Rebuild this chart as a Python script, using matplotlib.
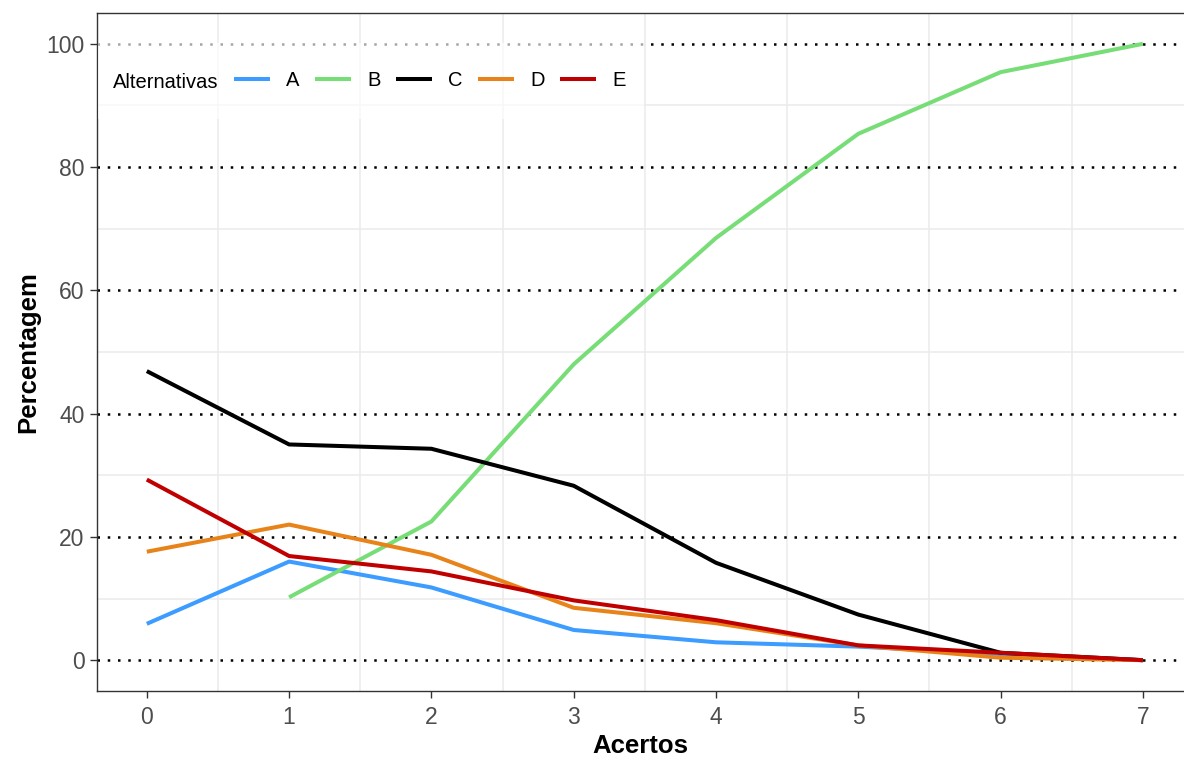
"""Percentagem de escolha de cada alternativa por número de acertos."""

import matplotlib

matplotlib.use("Agg")
import matplotlib.pyplot as plt
from matplotlib.patches import Rectangle

plt.rcParams["font.family"] = ["Liberation Sans", "DejaVu Sans"]

acertos = [0, 1, 2, 3, 4, 5, 6, 7]
alt_a = [5.9, 16.0, 11.8, 4.9, 2.9, 2.2, 1.0, 0.0]
alt_b = [None, 10.2, 22.5, 48.0, 68.5, 85.4, 95.4, 100.0]
alt_c = [46.9, 35.0, 34.3, 28.3, 15.8, 7.4, 1.2, 0.0]
alt_d = [17.6, 22.0, 17.1, 8.5, 6.0, 2.4, 0.4, 0.0]
alt_e = [29.3, 16.9, 14.4, 9.7, 6.5, 2.4, 1.2, 0.0]
series = {"A": alt_a, "B": alt_b, "C": alt_c, "D": alt_d, "E": alt_e}
cores = {"A": "#3C9CFF", "B": "#77DD77", "C": "#000000", "D": "#E8831A", "E": "#C00000"}
y_ticks = [0, 20, 40, 60, 80, 100]

W, H = 1184, 758
fig = plt.figure(figsize=(W / 100, H / 100), dpi=100)
ax = fig.add_axes([97 / W, (H - 691) / H, 1095.7 / W, 678 / H])

ax.set_xlim(-0.35, 7.35)
ax.set_ylim(-5, 105)

# grid: only half-integer verticals, minor horizontals
for gx in [i + 0.5 for i in range(-1, 8)]:
    ax.axvline(gx, color="#EBEBEB", lw=1.1, zorder=0)
for gy in [10, 30, 50, 70, 90]:
    ax.axhline(gy, color="#EBEBEB", lw=1.1, zorder=0)
for gy in y_ticks:
    ax.axhline(gy, color="black", lw=1.8, ls=(0, (1, 3.1)), zorder=1)

handles = []
for nome, vals in series.items():
    xs = [x for x, v in zip(acertos, vals) if v is not None]
    ys = [v for v in vals if v is not None]
    (ln,) = ax.plot(xs, ys, color=cores[nome], lw=2.9, label=nome, zorder=3,
                    solid_capstyle="butt")
    handles.append(ln)

ax.set_xticks(acertos)
ax.set_yticks(y_ticks)
ax.tick_params(axis="both", labelsize=16.5, labelcolor="#4D4D4D", color="#333333",
               length=5, width=1.0, pad=4)
ax.tick_params(axis="x", pad=6)
for s in ax.spines.values():
    s.set_color("#333333")
    s.set_linewidth(1.0)

ax.set_xlabel("Acertos", fontsize=18.5, fontweight="bold")
ax.xaxis.set_label_coords(0.496, -0.064)
ax.set_ylabel("Percentagem", fontsize=18.5, fontweight="bold")
ax.yaxis.set_label_coords(-0.052, 0.5)

# legend inside the panel, semi-transparent background
ax.add_patch(Rectangle((98 / W, 1 - 119 / H), (644 - 98) / W, 76 / H,
                       transform=fig.transFigure, facecolor="white", alpha=0.65,
                       edgecolor="none", zorder=4, clip_on=False))
fig.text(113 / W, 1 - 82 / H, "Alternativas", fontsize=14.5, va="center",
         ha="left", zorder=5)
leg = fig.legend(handles=handles, loc="center left",
                 bbox_to_anchor=(234 / W, 1 - 81 / H), ncol=5, frameon=False,
                 fontsize=14.5, handlelength=1.8, handletextpad=0.8,
                 columnspacing=0.75, borderpad=0, borderaxespad=0)

fig.savefig("out.png", dpi=100)
